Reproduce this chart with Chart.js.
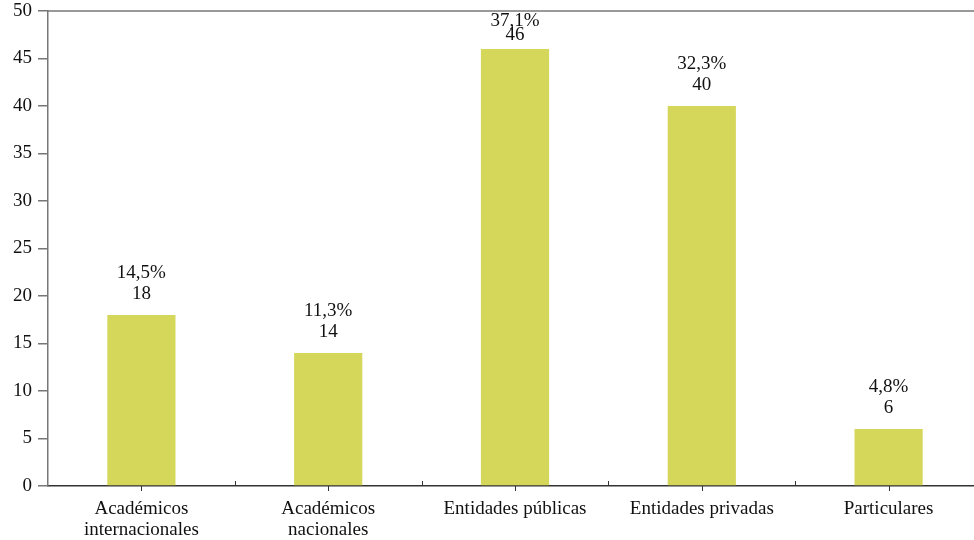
<!DOCTYPE html>
<html>
<head>
<meta charset="utf-8">
<script src="https://cdn.jsdelivr.net/npm/chart.js@4"></script>
<style>
  html, body { margin: 0; padding: 0; background: #fff; overflow: hidden; }
  #wrap { width: 990px; height: 540px; }
</style>
</head>
<body>
<div id="wrap"><canvas id="myChart" width="990" height="540"></canvas></div>
<script>
const categorias = [
  ["Académicos", "internacionales"],
  ["Académicos", "nacionales"],
  "Entidades públicas",
  "Entidades privadas",
  "Particulares"
];
const valores = [18, 14, 46, 40, 6];
const porcentajes = ["14,5%", "11,3%", "37,1%", "32,3%", "4,8%"];

const fuente = "'Liberation Serif', 'DejaVu Serif', serif";

// etiquetas sobre las barras + marcas del eje x + linea superior
const extras = {
  id: 'extras',
  afterDatasetsDraw(chart) {
    const ctx = chart.ctx;
    const meta = chart.getDatasetMeta(0);
    const area = chart.chartArea;
    ctx.save();
    ctx.fillStyle = '#111';
    ctx.font = "19px " + fuente;
    ctx.textAlign = 'center';
    ctx.textBaseline = 'alphabetic';
    meta.data.forEach((bar, i) => {
      const yPct = Math.max(bar.y - 37, area.top + 15);
      const yVal = Math.max(bar.y - 16, yPct + 14);
      ctx.fillText(porcentajes[i], bar.x, yPct);
      ctx.fillText(String(valores[i]), bar.x, yVal);
    });
    ctx.restore();
  },
  afterDraw(chart) {
    const ctx = chart.ctx;
    const area = chart.chartArea;
    const x = chart.scales.x;
    ctx.save();
    ctx.strokeStyle = '#777';
    ctx.lineWidth = 1.5;
    ctx.beginPath();
    ctx.moveTo(area.left, area.top);
    ctx.lineTo(area.right, area.top);
    ctx.stroke();
    ctx.strokeStyle = '#333';
    ctx.lineWidth = 1;
    const paso = x.getPixelForValue(1) - x.getPixelForValue(0);
    for (let i = 0; i < valores.length; i++) {
      const cx = Math.round(x.getPixelForValue(i)) + 0.5;
      ctx.beginPath();
      ctx.moveTo(cx, area.bottom);
      ctx.lineTo(cx, area.bottom + 5);
      ctx.stroke();
      if (i > 0) {
        const bx = Math.round(x.getPixelForValue(i) - paso / 2) + 0.5;
        ctx.beginPath();
        ctx.moveTo(bx, area.bottom);
        ctx.lineTo(bx, area.bottom - 5);
        ctx.stroke();
      }
    }
    ctx.restore();
  }
};

new Chart(document.getElementById('myChart'), {
  type: 'bar',
  data: {
    labels: categorias,
    datasets: [{
      data: valores,
      backgroundColor: '#d5d75a',
      borderWidth: 0,
      categoryPercentage: 1,
      barPercentage: 0.365
    }]
  },
  options: {
    responsive: false,
    animation: false,
    layout: { padding: { top: 11, right: 8, left: 0, bottom: 0 } },
    plugins: { legend: { display: false }, tooltip: { enabled: false } },
    scales: {
      x: {
        grid: { display: false },
        border: { display: true, color: '#333', width: 1.5 },
        ticks: { color: '#111', font: { family: fuente, size: 19, lineHeight: 1.1 }, padding: 5, maxRotation: 0 },
        afterFit(s) { s.height = 54; s.paddingLeft = 0; s.paddingRight = 0; }
      },
      y: {
        min: 0,
        max: 50,
        ticks: { stepSize: 5, color: '#111', font: { family: fuente, size: 19 }, padding: 6 },
        grid: { drawOnChartArea: false, tickLength: 10, color: '#777', lineWidth: 1.5 },
        border: { display: true, color: '#777', width: 1.5 },
        afterFit(s) { s.width = 48; s.paddingTop = 0; s.paddingBottom = 0; }
      }
    }
  },
  plugins: [extras]
});
</script>
</body>
</html>
